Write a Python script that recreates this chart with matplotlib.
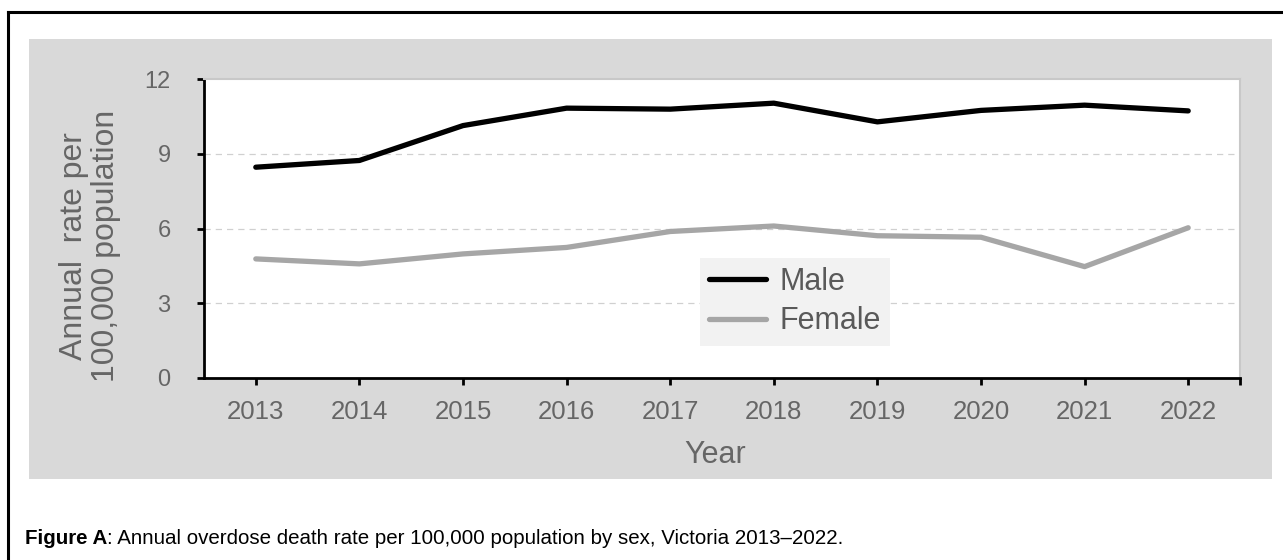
import numpy as np
import matplotlib
matplotlib.use("Agg")
from matplotlib import pyplot as plt
from matplotlib.patches import Rectangle
from matplotlib.lines import Line2D

plt.rcParams['font.family'] = ['Liberation Sans', 'DejaVu Sans']

# data
years = [2013, 2014, 2015, 2016, 2017, 2018, 2019, 2020, 2021, 2022]
male = [8.46, 8.73, 10.13, 10.83, 10.79, 11.03, 10.28, 10.74, 10.95, 10.72]
female = [4.78, 4.58, 4.98, 5.24, 5.88, 6.1, 5.71, 5.65, 4.47, 6.03]

W, H = 1283, 560
fig = plt.figure(figsize=(W / 100, H / 100), dpi=100)
fig.patch.set_facecolor('white')

# grey chart panel and outer frame
fig.patches.append(Rectangle((29 / W, 1 - 479 / H), (1272 - 29) / W, (479 - 39) / H,
                             transform=fig.transFigure, facecolor='#d9d9d9',
                             edgecolor='none', zorder=-5))
fig.add_artist(Line2D([8 / W, 1], [1 - 12 / H, 1 - 12 / H], color='black', lw=2.2,
                      transform=fig.transFigure))
fig.add_artist(Line2D([8 / W, 8 / W], [0, 1 - 12 / H], color='black', lw=2.2,
                      transform=fig.transFigure))

ax = fig.add_axes([204 / W, 1 - 378 / H, (1240 - 204) / W, (378 - 79) / H])
ax.set_zorder(2)
ax.set_facecolor('white')

x = np.arange(len(years))
ax.plot(x, male, color='black', lw=3.8, solid_capstyle='round', label='Male', zorder=3)
ax.plot(x, female, color='#a6a6a6', lw=3.8, solid_capstyle='round', label='Female', zorder=3)

ax.set_xlim(-0.5, len(years) - 0.5)
ax.set_ylim(0, 12)
ax.set_yticks([0, 3, 6, 9, 12])
ax.set_xticks(x)
ax.set_xticklabels([str(y) for y in years])

for v in [3, 6, 9]:
    ax.axhline(v, color='#d0d0d0', lw=0.9, ls=(0, (5, 4)), zorder=1)

for s in ['top', 'right']:
    ax.spines[s].set_color('#c8c8c8')
    ax.spines[s].set_linewidth(1.5)
for s in ['left', 'bottom']:
    ax.spines[s].set_color('black')
    ax.spines[s].set_linewidth(2)

ax.tick_params(axis='y', length=5, width=2, color='black', pad=19,
               labelsize=17, labelcolor='#666666')
ax.tick_params(axis='x', length=5, width=2, color='black', pad=11,
               labelsize=18.5, labelcolor='#666666')
# extra tick at the right end of the x axis
ax.plot([len(years) - 0.5], [0], marker=3, color='black', ms=5, mew=2,
        clip_on=False)

fig.text(90 / W, 1 - 246 / H, 'Annual  rate per\n100,000 population', fontsize=23,
         color='#666666', rotation=90, ha='center', va='center', linespacing=1.1,
         multialignment='center')
fig.text(715 / W, 1 - 455 / H, 'Year', fontsize=22, color='#666666',
         ha='center', va='center')

leg = ax.legend(loc='upper left', bbox_to_anchor=((700 - 204) / (1240 - 204), (378 - 258) / (378 - 79)),
                borderaxespad=0, fontsize=22, frameon=True, facecolor='#f2f2f2',
                edgecolor='none', framealpha=1, fancybox=False, handlelength=1.85,
                handletextpad=0.45, borderpad=0.3, labelspacing=0.3, labelcolor='#595959')

cap_y = 1 - 538 / H
t1 = fig.text(25 / W, cap_y, 'Figure A', fontsize=14.8, fontweight='bold', va='center')
r = fig.canvas.get_renderer()
bb = t1.get_window_extent(renderer=r)
fig.text(bb.x1 / W, cap_y,
         ': Annual overdose death rate per 100,000 population by sex, Victoria 2013\u20132022.',
         fontsize=14.8, va='center')

fig.savefig('out.png', dpi=100)
